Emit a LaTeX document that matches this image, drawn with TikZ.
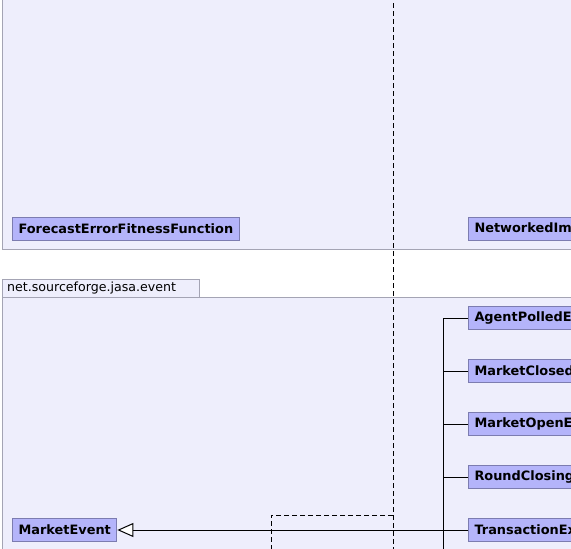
\documentclass[tikz,border=0pt]{standalone}
\usepackage{fontspec}
\setmainfont{DejaVu Sans}
\usetikzlibrary{arrows.meta,positioning}
\definecolor{PackageFill}{HTML}{EEEEFC}
\definecolor{PackageLine}{HTML}{A4A4B4}
\definecolor{ClassFill}{HTML}{B4B4FA}
\definecolor{ClassLine}{HTML}{7C7CB0}

\begin{document}
\begin{tikzpicture}[x=1pt,y=-1pt,
    pkg/.style={draw=PackageLine,fill=PackageFill,line width=1pt},
    pkglabel/.style={anchor=west,inner sep=0pt,font=\fontsize{12.6}{14}\selectfont},
    cls/.style={rectangle,draw=ClassLine,fill=ClassFill,line width=1pt,
      minimum height=23pt,inner xsep=6pt,inner ysep=0pt,anchor=west,
      font=\bfseries\fontsize{12.9}{14}\selectfont},
    link/.style={line width=1pt},
    dep/.style={line width=1pt,dash pattern=on 5pt off 3pt},
    inherit/.style={link,-{Triangle[open,length=16pt,width=14pt,fill=white]}}
  ]
  \useasboundingbox (0,0) rectangle (571,549);
  \clip (0,0) rectangle (571,549);

  % packages
  \draw[pkg] (2,-10) rectangle (600,249);
  \draw[pkg] (2,279) rectangle (199,297);
  \draw[pkg] (2,297) rectangle (600,600);
  \node[pkglabel] (evpkg) at (7,288) {net.sourceforge.jasa.event};

  % classes
  \node[cls] (fitness) at (12,229) {ForecastErrorFitnessFunction};
  \node[cls] (networked) at (468,229) {NetworkedImitationStrategy};
  \node[cls] (polled) at (468,318) {AgentPolledEvent};
  \node[cls,below=29pt of polled.south west,anchor=north west] (closed) {MarketClosedEvent};
  \node[cls,below=29pt of closed.south west,anchor=north west] (open) {MarketOpenEvent};
  \node[cls,below=29pt of open.south west,anchor=north west] (closing) {RoundClosingEvent};
  \node[cls,below=29pt of closing.south west,anchor=north west] (executed) {TransactionExecutedEvent};
  \node[cls] (event) at (12,0 |- executed.west) {MarketEvent};

  % dependencies
  \coordinate (deptop) at (393,-5);
  \coordinate (depbend) at (393,515);
  \coordinate (depend) at (393,560);
  \coordinate (dropend) at (271,560);
  \draw[dep] (deptop) -- (depbend) -| (dropend);
  \draw[dep] (depbend) -- (depend);

  % generalization
  \draw[link] (polled.west) -- ++(-25,0) coordinate (trunk) -- (trunk |- 0,600);
  \foreach \c in {closed,open,closing}
    \draw[link] (\c.west) -- (\c.west -| trunk);
  \draw[inherit] (executed.west) -- (event.east);
\end{tikzpicture}
\end{document}
